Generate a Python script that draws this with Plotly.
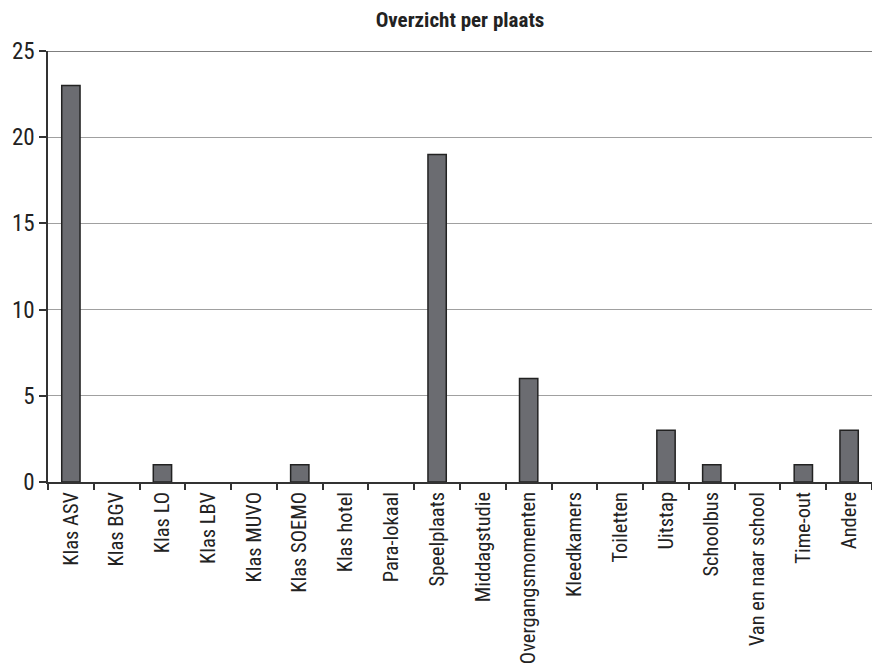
import plotly.graph_objects as go

categories = ["Klas ASV", "Klas BGV", "Klas LO", "Klas LBV", "Klas MUVO", "Klas SOEMO",
              "Klas hotel", "Para-lokaal", "Speelplaats", "Middagstudie", "Overgangsmomenten",
              "Kleedkamers", "Toiletten", "Uitstap", "Schoolbus", "Van en naar school",
              "Time-out", "Andere"]
values = [23, 0, 1, 0, 0, 1, 0, 0, 19, 0, 6, 0, 0, 3, 1, 0, 1, 3]
y_ticks = [0, 5, 10, 15, 20, 25]

FONT = "Liberation Sans Narrow, Roboto Condensed, Arial Narrow, Roboto, sans-serif"

fig = go.Figure()
fig.add_trace(go.Bar(
    x=categories, y=values,
    marker=dict(color="#6b6c71",
                line=dict(color="#222222", width=[1.5 if v > 0 else 0 for v in values])),
    width=0.4,
))
fig.add_hline(y=25, line=dict(color="#555555", width=1.5), layer="above")
fig.update_layout(
    width=872, height=664,
    margin=dict(l=48, r=0, t=51, b=182),
    paper_bgcolor="white", plot_bgcolor="white",
    showlegend=False,
    title=dict(text="<b>Overzicht per plaats</b>", x=0.5, xref="paper", y=1, yref="container",
               yanchor="top", pad=dict(t=12),
               font=dict(family=FONT, size=21, color="#222222")),
    font=dict(family=FONT, color="#222222"),
    bargap=0.6,
)
fig.update_xaxes(
    tickangle=-90, tickfont=dict(size=20.5, color="#222222"),
    showline=True, linecolor="#333333", linewidth=1.5,
    ticks="outside", ticklen=6, tickcolor="#333333", tickwidth=1.5,
    tickson="boundaries", showgrid=False, range=[-0.5, 17.5],
)
fig.update_yaxes(
    range=[0, 25], tickvals=y_ticks, tickfont=dict(size=23, color="#222222"),
    showline=True, linecolor="#333333", linewidth=1.5,
    ticks="outside", ticklen=7, tickcolor="#333333", tickwidth=1.5,
    showgrid=True, gridcolor="#a0a0a0", gridwidth=1, zeroline=False,
)
fig.write_html("out.html")
